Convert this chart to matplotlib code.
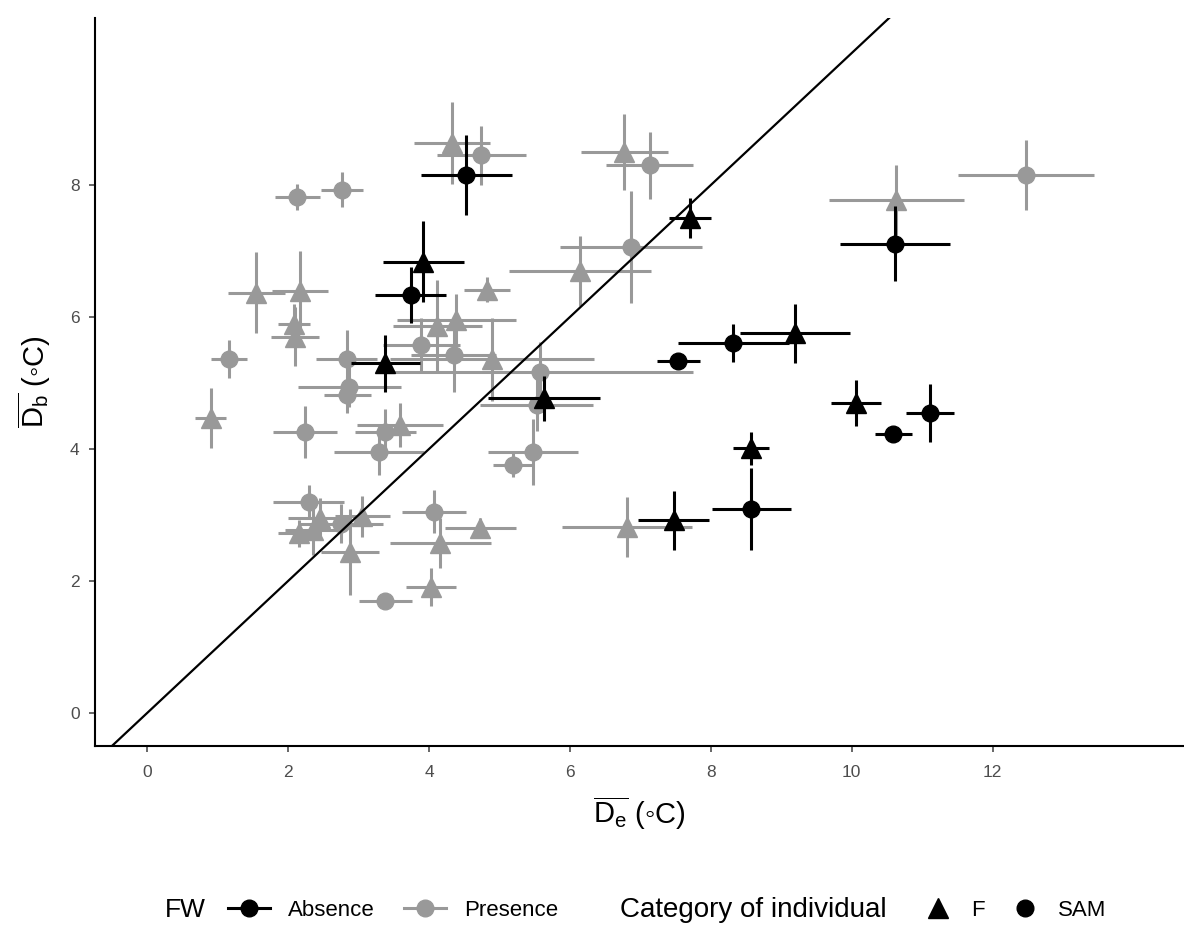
import matplotlib.pyplot as plt
from matplotlib.lines import Line2D

plt.rcParams['font.family'] = ['Liberation Sans', 'DejaVu Sans']
plt.rcParams['mathtext.fontset'] = 'custom'
plt.rcParams['mathtext.rm'] = 'Liberation Sans'
plt.rcParams['mathtext.it'] = 'Liberation Sans'

# FW absent: category, mean De, mean Db, half-widths of the error bars
abs_cat = ['SAM', 'F', 'SAM', 'F', 'F', 'SAM', 'F', 'SAM',
           'SAM', 'F', 'F', 'SAM', 'SAM', 'F', 'SAM', 'F']
abs_de = [4.53, 3.92, 3.74, 3.38, 5.63, 7.54, 7.70, 10.61,
          8.32, 9.19, 10.06, 10.59, 11.11, 8.57, 8.57, 7.47]
abs_db = [8.15, 6.84, 6.33, 5.30, 4.77, 5.34, 7.50, 7.11,
          5.61, 5.75, 4.70, 4.22, 4.55, 4.01, 3.09, 2.92]
abs_de_err = [0.65, 0.57, 0.50, 0.49, 0.79, 0.30, 0.30, 0.78,
              0.79, 0.78, 0.35, 0.26, 0.34, 0.26, 0.56, 0.51]
abs_db_err = [0.60, 0.61, 0.42, 0.43, 0.34, 0.10, 0.30, 0.57,
              0.29, 0.45, 0.35, 0.10, 0.44, 0.25, 0.62, 0.45]

# FW present
pre_cat = ['SAM', 'SAM', 'F', 'SAM', 'F', 'F', 'F', 'F', 'F', 'F',
           'F', 'SAM', 'SAM', 'F', 'SAM', 'SAM', 'SAM', 'SAM', 'F', 'SAM',
           'SAM', 'F', 'SAM', 'SAM', 'SAM', 'SAM', 'SAM', 'SAM', 'F', 'F',
           'F', 'F', 'SAM', 'F', 'SAM', 'F', 'F', 'F', 'F', 'SAM',
           'F', 'SAM', 'SAM', 'F', 'F', 'SAM']
pre_de = [2.13, 2.77, 4.33, 4.74, 1.55, 2.17, 2.08, 2.10, 4.82, 4.39,
          4.12, 3.89, 4.35, 4.89, 2.83, 2.87, 2.84, 1.16, 0.90, 2.24,
          3.38, 3.59, 3.29, 5.57, 5.53, 5.48, 5.19, 4.07, 4.73, 4.16,
          4.03, 6.81, 2.29, 2.45, 2.75, 3.05, 2.15, 2.35, 2.88, 3.38,
          6.77, 7.13, 6.87, 6.14, 10.63, 12.47]
pre_db = [7.82, 7.93, 8.63, 8.45, 6.37, 6.40, 5.90, 5.70, 6.41, 5.95,
          5.86, 5.58, 5.42, 5.36, 5.37, 4.94, 4.82, 5.36, 4.47, 4.26,
          4.26, 4.36, 3.96, 5.17, 4.67, 3.95, 3.76, 3.05, 2.80, 2.57,
          1.91, 2.82, 3.20, 2.96, 2.87, 2.98, 2.72, 2.77, 2.44, 1.69,
          8.50, 8.30, 7.06, 6.69, 7.77, 8.15]
pre_de_err = [0.32, 0.30, 0.54, 0.63, 0.40, 0.40, 0.23, 0.34, 0.33, 0.84,
              0.63, 0.55, 0.60, 1.45, 0.43, 0.73, 0.33, 0.26, 0.22, 0.45,
              0.43, 0.61, 0.64, 2.18, 0.80, 0.64, 0.28, 0.46, 0.51, 0.72,
              0.36, 0.92, 0.50, 0.45, 0.60, 0.39, 0.30, 0.40, 0.41, 0.38,
              0.62, 0.62, 1.01, 1.01, 0.96, 0.97]
pre_db_err = [0.20, 0.26, 0.62, 0.45, 0.61, 0.60, 0.30, 0.45, 0.19, 0.40,
              0.70, 0.40, 0.55, 0.63, 0.43, 0.30, 0.28, 0.29, 0.45, 0.39,
              0.35, 0.33, 0.35, 0.45, 0.40, 0.50, 0.19, 0.33, 0.15, 0.38,
              0.29, 0.46, 0.25, 0.30, 0.30, 0.31, 0.20, 0.38, 0.65, 0.10,
              0.58, 0.51, 0.85, 0.53, 0.53, 0.53]

colors = {'Absence': 'black', 'Presence': '#999999'}
markers = {'F': '^', 'SAM': 'o'}
msize = {'F': 14, 'SAM': 12}

fig = plt.figure(figsize=(11.84, 9.34), dpi=100)
ax = fig.add_axes([95 / 1184, 1 - 746 / 934, 1088 / 1184, 728 / 934])

groups = [('Presence', pre_cat, pre_de, pre_db, pre_de_err, pre_db_err, 2),
          ('Absence', abs_cat, abs_de, abs_db, abs_de_err, abs_db_err, 3)]
for name, cats, xs, ys, xe, ye, z in groups:
    for c, x, y, ex, ey in zip(cats, xs, ys, xe, ye):
        ax.errorbar(x, y, xerr=ex, yerr=ey, fmt=markers[c], color=colors[name],
                    ms=msize[c], elinewidth=2.2, capsize=0, zorder=z)

ax.axline((0, 0), slope=1, color='black', lw=1.6, zorder=4)

ax.set_xlim(-0.74, 14.7)
ax.set_ylim(-0.5, 10.53)
ax.set_xticks([0, 2, 4, 6, 8, 10, 12])
ax.set_yticks([0, 2, 4, 6, 8])
for s in ['top', 'right']:
    ax.spines[s].set_visible(False)
for s in ['left', 'bottom']:
    ax.spines[s].set_linewidth(1.5)
ax.tick_params(labelsize=12.5, colors='#4D4D4D', length=4, width=1.2, labelcolor='#4D4D4D')
ax.tick_params(axis='x', pad=10)
ax.tick_params(axis='y', pad=7)

ax.set_xlabel(r'$\overline{\mathrm{D_e}}$ (' + '\u25e6' + 'C)', fontsize=21, labelpad=10)
ax.set_ylabel(r'$\overline{\mathrm{D_b}}$ (' + '\u25e6' + 'C)', fontsize=21, labelpad=12)

# legends along the bottom
ly = 1 - 910 / 934
fig.text(165 / 1184, ly, 'FW', fontsize=19, va='center', ha='left')
fig.text(620 / 1184, ly, 'Category of individual', fontsize=20, va='center', ha='left')

fw_handles = [Line2D([], [], color=colors[k], marker='o', ms=12, lw=2.2) for k in ['Absence', 'Presence']]
fig.legend(fw_handles, ['Absence', 'Presence'], loc='center left',
           bbox_to_anchor=(228 / 1184, ly), ncol=2, frameon=False,
           fontsize=16, handlelength=1.9, handletextpad=0.8, columnspacing=1.3,
           borderpad=0, borderaxespad=0)
cat_handles = [Line2D([], [], color='black', marker=markers[k], ms=msize[k], lw=0) for k in ['F', 'SAM']]
fig.legend(cat_handles, ['F', 'SAM'], loc='center left',
           bbox_to_anchor=(918 / 1184, ly), ncol=2, frameon=False,
           fontsize=16, handlelength=1.8, handletextpad=0.6, columnspacing=0.9,
           borderpad=0, borderaxespad=0)

fig.savefig('out.png', dpi=100)
